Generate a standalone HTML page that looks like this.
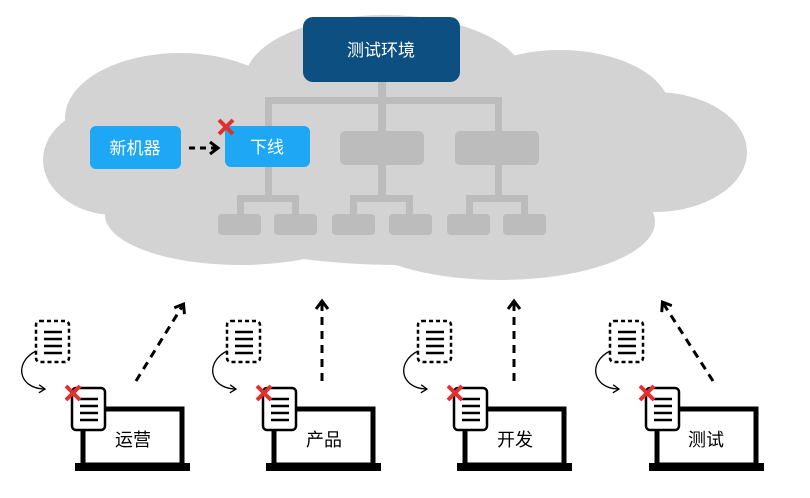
<!DOCTYPE html>
<html><head><meta charset="utf-8"><style>
html,body{margin:0;padding:0;background:#fff;}
svg{display:block;}
text{font-family:"Liberation Sans","Noto Sans CJK SC",sans-serif;}
</style></head><body>
<svg width="810" height="498" viewBox="0 0 810 498" xmlns="http://www.w3.org/2000/svg">
<defs>
<marker id="ah" markerWidth="14" markerHeight="14" refX="8" refY="7" orient="auto" markerUnits="userSpaceOnUse">
<path d="M1,1 L9,7 L1,13" fill="none" stroke="#000" stroke-width="3"/>
</marker>
<marker id="ah2" markerWidth="10" markerHeight="10" refX="6" refY="5" orient="auto" markerUnits="userSpaceOnUse">
<path d="M1,1 L7,5 L1,9" fill="none" stroke="#000" stroke-width="1.3"/>
</marker>
<g id="doc">
<rect x="0" y="0" width="33" height="42" rx="4" fill="#fff" stroke="#000" stroke-width="2.5"/>
<line x1="8" y1="11" x2="26" y2="11" stroke="#000" stroke-width="2.5"/>
<line x1="8" y1="18" x2="26" y2="18" stroke="#000" stroke-width="2.5"/>
<line x1="8" y1="25" x2="26" y2="25" stroke="#000" stroke-width="2.5"/>
<line x1="8" y1="32" x2="26" y2="32" stroke="#000" stroke-width="2.5"/>
</g>
<g id="ddoc">
<rect x="0" y="0" width="33" height="41" rx="4" fill="#fff" stroke="#000" stroke-width="2.5" stroke-dasharray="4,3"/>
<line x1="8" y1="11" x2="26" y2="11" stroke="#000" stroke-width="2.5"/>
<line x1="8" y1="18" x2="26" y2="18" stroke="#000" stroke-width="2.5"/>
<line x1="8" y1="25" x2="26" y2="25" stroke="#000" stroke-width="2.5"/>
<line x1="8" y1="32" x2="26" y2="32" stroke="#000" stroke-width="2.5"/>
</g>
<g id="redx">
<line x1="-7" y1="-7" x2="7" y2="7" stroke="#e03030" stroke-width="4"/>
<line x1="7" y1="-7" x2="-7" y2="7" stroke="#e03030" stroke-width="4"/>
</g>
</defs>
<g fill="#d3d3d3">
<ellipse cx="400" cy="160" rx="290" ry="105"/>
<ellipse cx="180" cy="118" rx="115" ry="65"/>
<ellipse cx="385" cy="80" rx="140" ry="65"/>
<ellipse cx="560" cy="110" rx="110" ry="60"/>
<ellipse cx="655" cy="152" rx="92" ry="60"/>
<ellipse cx="115" cy="160" rx="72" ry="55"/>
<ellipse cx="240" cy="215" rx="135" ry="50"/>
<ellipse cx="500" cy="222" rx="155" ry="58"/>
</g>
<g fill="#bcbcbc">
<rect x="378" y="80" width="8" height="22"/>
<rect x="265" y="97" width="237" height="7"/>
<rect x="265" y="97" width="7" height="105"/>
<rect x="378" y="97" width="8" height="105"/>
<rect x="495" y="97" width="7" height="105"/>
<rect x="237" y="195" width="62" height="7"/>
<rect x="237" y="195" width="7" height="22"/>
<rect x="292" y="195" width="7" height="22"/>
<rect x="350" y="195" width="63" height="7"/>
<rect x="350" y="195" width="7" height="22"/>
<rect x="406" y="195" width="7" height="22"/>
<rect x="466" y="195" width="62" height="7"/>
<rect x="466" y="195" width="7" height="22"/>
<rect x="521" y="195" width="7" height="22"/>
<rect x="340" y="131" width="84" height="34" rx="5"/>
<rect x="455" y="131" width="84" height="34" rx="5"/>
<rect x="218" y="214" width="43" height="21" rx="4"/>
<rect x="274" y="214" width="43" height="21" rx="4"/>
<rect x="332" y="214" width="43" height="21" rx="4"/>
<rect x="389" y="214" width="43" height="21" rx="4"/>
<rect x="447" y="214" width="43" height="21" rx="4"/>
<rect x="503" y="214" width="43" height="21" rx="4"/>
</g>
<rect x="303" y="17" width="157" height="65" rx="10" fill="#0c4f80"/>
<text x="381" y="56" font-size="17" fill="#fff" text-anchor="middle">测试环境</text>
<rect x="90" y="126" width="91" height="43" rx="6" fill="#1ea7f5"/>
<text x="135" y="154" font-size="17" fill="#fff" text-anchor="middle">新机器</text>
<rect x="225" y="126" width="85" height="41" rx="6" fill="#1ea7f5"/>
<text x="267" y="153" font-size="17" fill="#fff" text-anchor="middle">下线</text>
<line x1="189" y1="148" x2="217" y2="148" stroke="#000" stroke-width="3" stroke-dasharray="6,5" marker-end="url(#ah)"/>
<use href="#redx" x="226" y="127"/>

<g id="lap1">
<rect x="83" y="409" width="99" height="56" fill="#fff" stroke="#000" stroke-width="5"/>
<rect x="75" y="463" width="115" height="8" fill="#000"/>
<use href="#doc" x="72" y="388"/>
<use href="#redx" x="73" y="393"/>
<use href="#ddoc" x="36" y="321"/>
<path d="M36,351 C14,362 18,388 44,389" fill="none" stroke="#000" stroke-width="1.3" marker-end="url(#ah2)"/>
</g>
<text x="133" y="446" font-size="18" fill="#000" text-anchor="middle">运营</text>
<use href="#lap1" x="191"/>
<text x="324" y="446" font-size="18" fill="#000" text-anchor="middle">产品</text>
<use href="#lap1" x="382"/>
<text x="515" y="446" font-size="18" fill="#000" text-anchor="middle">开发</text>
<use href="#lap1" x="574"/>
<text x="706" y="446" font-size="18" fill="#000" text-anchor="middle">测试</text>

<g stroke="#000" stroke-width="3" stroke-dasharray="8,6" fill="none">
<line x1="136" y1="381" x2="183" y2="305" marker-end="url(#ah)"/>
<line x1="322" y1="381" x2="322" y2="302" marker-end="url(#ah)"/>
<line x1="514" y1="381" x2="514" y2="302" marker-end="url(#ah)"/>
<line x1="713" y1="381" x2="663" y2="303" marker-end="url(#ah)"/>
</g>
</svg>
</body></html>
